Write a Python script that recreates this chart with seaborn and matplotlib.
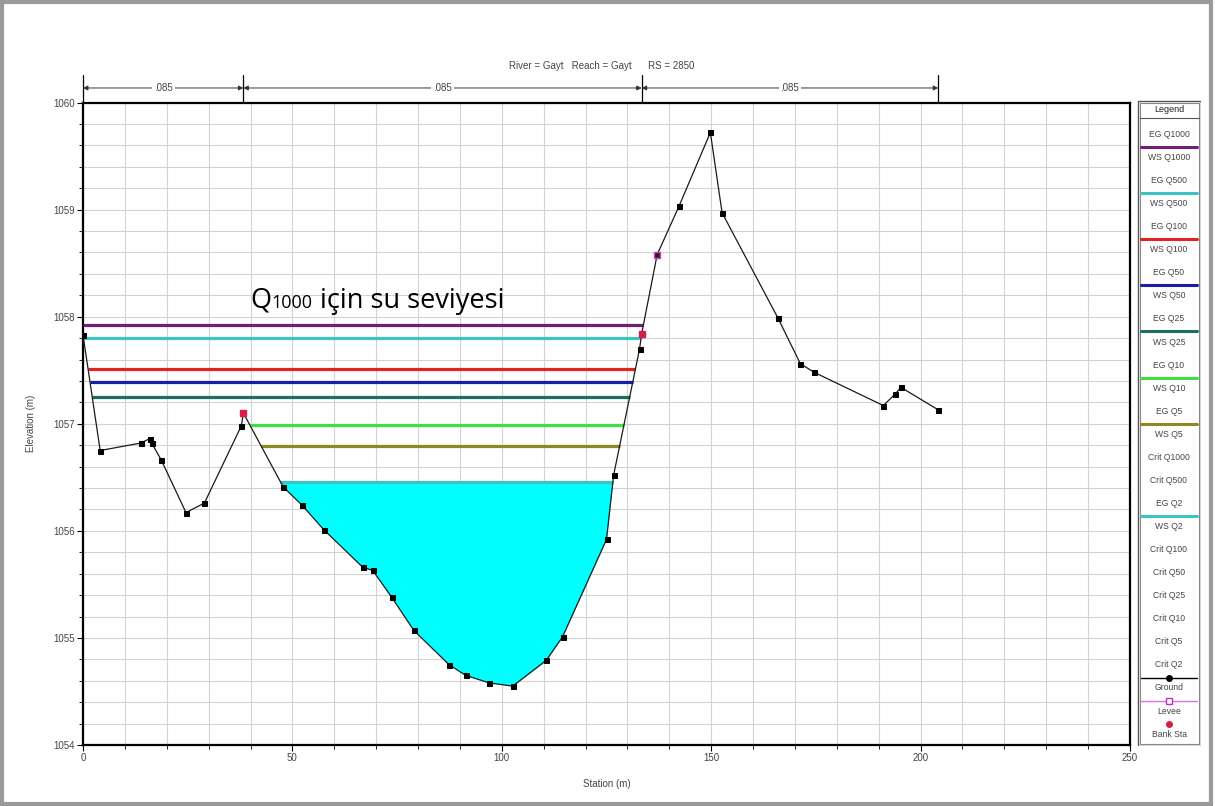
import numpy as np
import matplotlib
matplotlib.use("Agg")
import matplotlib.pyplot as plt
import matplotlib.transforms as mtransforms
from matplotlib.patches import Rectangle
from matplotlib.offsetbox import TextArea, HPacker, AnnotationBbox
import seaborn as sns

# =========================
# DATA (read from the HEC-RAS cross section)
# =========================
station = [0, 4.1, 13.8, 15.9, 16.4, 18.7, 24.6, 29.0, 37.8, 38.3, 47.8, 52.3,
           57.5, 66.8, 69.2, 73.7, 79.0, 87.4, 91.4, 97.0, 102.6, 110.6, 114.5,
           125.0, 126.7, 132.9, 133.4, 137.1, 142.3, 149.8, 152.6, 165.9, 171.3,
           174.6, 191.1, 194.0, 195.3, 204.2]
elevation = [1057.83, 1056.75, 1056.82, 1056.86, 1056.82, 1056.66, 1056.17,
             1056.26, 1056.98, 1057.10, 1056.41, 1056.24, 1056.01, 1055.66,
             1055.63, 1055.38, 1055.07, 1054.75, 1054.65, 1054.58, 1054.55,
             1054.79, 1055.01, 1055.92, 1056.52, 1057.70, 1057.84, 1058.58,
             1059.03, 1059.72, 1058.97, 1057.99, 1057.56, 1057.48, 1057.17,
             1057.28, 1057.34, 1057.13]

bank_station = [38.3, 133.4]
bank_elev = [1057.10, 1057.84]
levee_station = [137.1]
levee_elev = [1058.58]

profiles = ["Q1000", "Q500", "Q100", "Q50", "Q25", "Q10", "Q5", "Q2"]
ws_elev = [1057.92, 1057.80, 1057.51, 1057.39, 1057.25, 1056.99, 1056.79, 1056.46]
ws_colors = ["#6e1f78", "#3cc4c4", "#e3231f", "#1c1ca6", "#1f6e66",
             "#3fe03f", "#8c8a22", "#3cc4c4"]

n_breaks = [0, 38.3, 133.4, 204.2]
n_values = [".085", ".085", ".085"]

legend_labels = ["EG Q1000", "WS Q1000", "EG Q500", "WS Q500", "EG Q100", "WS Q100",
                 "EG Q50", "WS Q50", "EG Q25", "WS Q25", "EG Q10", "WS Q10",
                 "EG Q5", "WS Q5", "Crit Q1000", "Crit Q500", "EG Q2", "WS Q2",
                 "Crit Q100", "Crit Q50", "Crit Q25", "Crit Q10", "Crit Q5",
                 "Crit Q2", "Ground", "Levee", "Bank Sta"]

title_text = "River = Gayt   Reach = Gayt      RS = 2850"

# =========================
# STYLE
# =========================
sns.set_theme(style="whitegrid")
plt.rcParams['font.family'] = ['Liberation Sans', 'DejaVu Sans']
txt_col = '#444444'

fig = plt.figure(figsize=(12.15, 8.06), dpi=100)
ax = fig.add_axes([83/1215, 1 - 745/806, 1047/1215, 642.5/806])
ax.set_facecolor('white')

st = np.array(station)
el = np.array(elevation)
low = int(np.argmin(el))


def wet_limits(wse):
    i = low
    while i > 0 and el[i-1] < wse:
        i -= 1
    left = st[0] if i == 0 else np.interp(wse, [el[i], el[i-1]], [st[i], st[i-1]])
    j = low
    while j < len(st) - 1 and el[j+1] < wse:
        j += 1
    right = st[-1] if j == len(st) - 1 else np.interp(wse, [el[j], el[j+1]], [st[j], st[j+1]])
    return left, right


# Q2 water body fill
lq2, rq2 = wet_limits(ws_elev[-1])
mask = (st > lq2) & (st < rq2)
fx = np.concatenate([[lq2], st[mask], [rq2]])
fy = np.concatenate([[ws_elev[-1]], el[mask], [ws_elev[-1]]])
ax.fill_between(fx, fy, ws_elev[-1], color='#00ffff', lw=0, zorder=2)

# water surface lines
for wse, col in zip(ws_elev, ws_colors):
    l, r = wet_limits(wse)
    ax.hlines(wse, l, r, color=col, lw=2.3, zorder=3)

# ground
sns.lineplot(x=station, y=elevation, ax=ax, color='#1a1a1a', lw=0.9, marker='s',
             markersize=3.6, markeredgecolor='black', markerfacecolor='black',
             sort=False, estimator=None, zorder=4)
ax.plot(bank_station, bank_elev, ls='none', marker='s', markersize=5,
        color='#d81e48', zorder=5)
ax.plot(levee_station, levee_elev, ls='none', marker='s', markersize=5,
        markerfacecolor='#222222', markeredgecolor='#d040c0', zorder=5)

# axes
ax.set_xlim(0, 250)
ax.set_ylim(1054, 1060)
ax.set_xticks(range(0, 251, 50))
ax.set_xticks(range(0, 251, 10), minor=True)
ax.set_yticks(range(1054, 1061))
ax.set_yticks(np.arange(1054, 1060.01, 0.2), minor=True)
ax.grid(which='both', color='#d2d2d2', lw=0.8)
ax.tick_params(which='both', direction='out', color='black', left=True, bottom=True,
               labelsize=7, labelcolor=txt_col, pad=2)
ax.tick_params(which='major', length=4, width=0.8)
ax.tick_params(which='minor', length=3, width=0.6)
for sp in ax.spines.values():
    sp.set_color('black')
    sp.set_linewidth(1.6)
ax.set_xlabel('Station (m)', fontsize=7, color=txt_col, labelpad=11)
ax.set_ylabel('Elevation (m)', fontsize=7, color=txt_col, labelpad=12)

# manning n bar and title
trans = mtransforms.blended_transform_factory(ax.transData, ax.transAxes)
for b in n_breaks:
    ax.plot([b, b], [1.0, 1.043], transform=trans, color='black', lw=0.9, clip_on=False)
for k, val in enumerate(n_values):
    ax.annotate('', xy=(n_breaks[k], 1.0226), xytext=(n_breaks[k+1], 1.0226),
                xycoords=trans, textcoords=trans,
                arrowprops=dict(arrowstyle='<|-|>', color='#333333', lw=0.7,
                                mutation_scale=7, shrinkA=0, shrinkB=0))
    ax.text((n_breaks[k] + n_breaks[k+1]) / 2, 1.0226, val, transform=trans,
            ha='center', va='center', fontsize=7, color=txt_col,
            bbox=dict(facecolor='white', edgecolor='none', pad=1.5))
ax.text(0.4957, 1.0568, title_text, transform=ax.transAxes, ha='center',
        va='center', fontsize=7, color=txt_col)

# annotation "Q1000 için su seviyesi"
big = dict(fontsize=19.5, family='Open Sans', color='black')
parts = HPacker(children=[
    TextArea("Q", textprops=big),
    TextArea("1000", textprops=dict(fontsize=13, family='Open Sans', color='black')),
    TextArea(" için su seviyesi", textprops=big),
], align="baseline", pad=0, sep=0)
ab = AnnotationBbox(parts, (40, 1058.15), xycoords='data', box_alignment=(0, 0.5),
                    frameon=False, zorder=6)
ax.add_artist(ab)

# =========================
# LEGEND PANEL
# =========================
lax = fig.add_axes([1137/1215, 1 - 746/806, 64/1215, 646/806])
lax.set_xlim(0, 64)
lax.set_ylim(746, 100)
lax.axis('off')
lax.add_patch(Rectangle((0.5, 100.5), 63, 645, fill=False, edgecolor='#555555', lw=1.0))
lax.add_patch(Rectangle((2.5, 102.5), 59, 641, fill=False, edgecolor='#888888', lw=0.8))
lax.text(32, 109, 'Legend', ha='center', va='center', fontsize=6.5, color='#222222')
lax.plot([2.5, 61.5], [117.5, 117.5], color='#555555', lw=0.8)

y0, dy = 134.5, 23.06
for i, lab in enumerate(legend_labels):
    lax.text(32, y0 + i*dy, lab, ha='center', va='center', fontsize=6.2, color=txt_col)
for k, col in enumerate(ws_colors):
    idx = legend_labels.index('EG ' + profiles[k])
    lax.plot([4, 60], [y0 + idx*dy + 12.5] * 2, color=col, lw=2.2)
yg = y0 + legend_labels.index('Ground')*dy - 10
lax.plot([4, 60], [yg, yg], color='black', lw=1.0)
lax.plot([32], [yg], marker='o', markersize=4, color='black')
yl = y0 + legend_labels.index('Levee')*dy - 10
lax.plot([4, 60], [yl, yl], color='#e070e0', lw=1.0)
lax.plot([32], [yl], marker='s', markersize=5, markerfacecolor='white',
         markeredgecolor='#c030c0')
yb = y0 + legend_labels.index('Bank Sta')*dy - 10
lax.plot([32], [yb], marker='o', markersize=4, color='#d81e48')

# outer frame of the picture
fig.patches.append(Rectangle((0.002, 0.003), 0.995, 0.994, transform=fig.transFigure,
                             fill=False, edgecolor='#9a9a9a', lw=3))

fig.savefig('out.png', dpi=100)
